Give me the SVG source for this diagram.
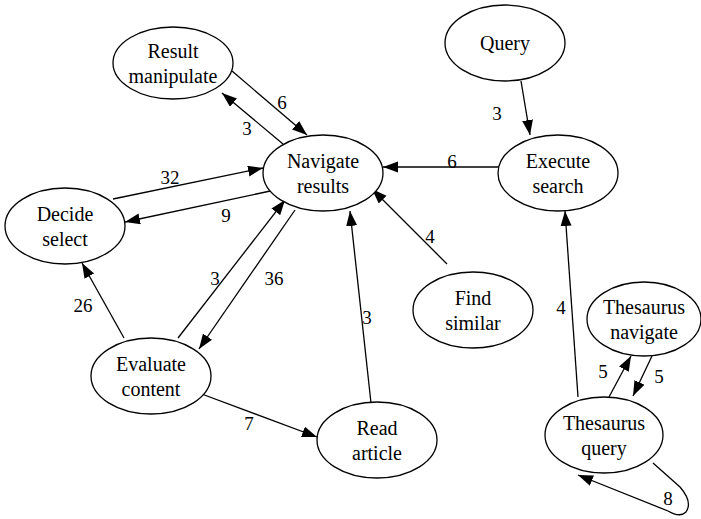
<svg xmlns="http://www.w3.org/2000/svg" width="701" height="519" viewBox="0 0 701 519" font-family="Liberation Serif, DejaVu Serif, Times New Roman, serif">
  <style>
    text { fill: #000000; text-anchor: middle; }
    .node ellipse { fill: #ffffff; stroke: #000000; stroke-width: 1.3; }
    .node text { font-size: 20px; }
    #edges line, #edges path { fill: none; stroke: #000000; stroke-width: 1.3; marker-end: url(#arrow); }
    #edges text { font-size: 19px; }
  </style>
  <defs>
    <marker id="arrow" markerUnits="userSpaceOnUse" markerWidth="16" markerHeight="12" refX="15" refY="5.5" orient="auto">
      <path d="M0,0 L15,5.5 L0,11 z" fill="#000000"/>
    </marker>
  </defs>
  <rect width="701" height="519" fill="#ffffff"/>

  <g id="edges">
    <!-- Result manipulate <-> Navigate results -->
    <line x1="232" y1="71" x2="307" y2="135"/>
    <text x="282" y="109">6</text>
    <line x1="283" y1="144" x2="222" y2="93"/>
    <text x="247" y="135">3</text>
    <!-- Decide select <-> Navigate results -->
    <line x1="113" y1="199" x2="263" y2="168"/>
    <text x="170" y="184">32</text>
    <line x1="275" y1="190" x2="125" y2="222"/>
    <text x="226" y="222">9</text>
    <!-- Execute search -> Navigate results -->
    <line x1="499" y1="167" x2="383" y2="167"/>
    <text x="452" y="168">6</text>
    <!-- Find similar -> Navigate results -->
    <line x1="447" y1="264" x2="372" y2="189"/>
    <text x="430" y="243">4</text>
    <!-- Query -> Execute search -->
    <line x1="521" y1="81" x2="530" y2="135"/>
    <text x="497" y="120">3</text>
    <!-- Thesaurus query -> Execute search -->
    <line x1="578" y1="397" x2="565" y2="211"/>
    <text x="561" y="314">4</text>
    <!-- Evaluate content <-> Navigate results -->
    <line x1="178" y1="338" x2="285" y2="200"/>
    <text x="215" y="285">3</text>
    <line x1="295" y1="210" x2="199" y2="349"/>
    <text x="274" y="285">36</text>
    <!-- Evaluate content -> Decide select -->
    <line x1="124" y1="338" x2="82" y2="263"/>
    <text x="83" y="312">26</text>
    <!-- Evaluate content -> Read article -->
    <line x1="199" y1="393" x2="317" y2="437"/>
    <text x="249" y="430">7</text>
    <!-- Read article -> Navigate results -->
    <line x1="371" y1="403" x2="350" y2="211"/>
    <text x="367" y="324">3</text>
    <!-- Thesaurus query <-> Thesaurus navigate -->
    <line x1="609" y1="397" x2="631" y2="356"/>
    <text x="603" y="378">5</text>
    <line x1="652" y1="356" x2="633" y2="396"/>
    <text x="659" y="383">5</text>
    <!-- Thesaurus query self loop -->
    <path d="M653,463 L680,487 Q693,502 686,512 Q680,518 668,511 L578,475"/>
    <text x="668" y="505">8</text>
  </g>

  <g id="result-manipulate" class="node">
    <ellipse cx="173" cy="63" rx="60" ry="36"/>
    <text x="173" y="58">Result</text>
    <text x="173" y="83">manipulate</text>
  </g>
  <g id="navigate-results" class="node">
    <ellipse cx="323" cy="173" rx="60" ry="38"/>
    <text x="323" y="168">Navigate</text>
    <text x="323" y="193">results</text>
  </g>
  <g id="decide-select" class="node">
    <ellipse cx="65" cy="226" rx="60" ry="38"/>
    <text x="65" y="221">Decide</text>
    <text x="65" y="246">select</text>
  </g>
  <g id="evaluate-content" class="node">
    <ellipse cx="151" cy="376" rx="60" ry="38"/>
    <text x="151" y="371">Evaluate</text>
    <text x="151" y="396">content</text>
  </g>
  <g id="read-article" class="node">
    <ellipse cx="377" cy="440" rx="60" ry="38"/>
    <text x="377" y="435">Read</text>
    <text x="377" y="460">article</text>
  </g>
  <g id="query" class="node">
    <ellipse cx="505" cy="43" rx="60" ry="38"/>
    <text x="505" y="50">Query</text>
  </g>
  <g id="execute-search" class="node">
    <ellipse cx="558" cy="173" rx="60" ry="38"/>
    <text x="558" y="168">Execute</text>
    <text x="558" y="193">search</text>
  </g>
  <g id="find-similar" class="node">
    <ellipse cx="473" cy="310" rx="60" ry="38"/>
    <text x="473" y="305">Find</text>
    <text x="473" y="330">similar</text>
  </g>
  <g id="thesaurus-navigate" class="node">
    <ellipse cx="644" cy="319" rx="57" ry="37"/>
    <text x="644" y="314">Thesaurus</text>
    <text x="644" y="339">navigate</text>
  </g>
  <g id="thesaurus-query" class="node">
    <ellipse cx="604" cy="435" rx="59" ry="38"/>
    <text x="604" y="430">Thesaurus</text>
    <text x="604" y="455">query</text>
  </g>
</svg>
